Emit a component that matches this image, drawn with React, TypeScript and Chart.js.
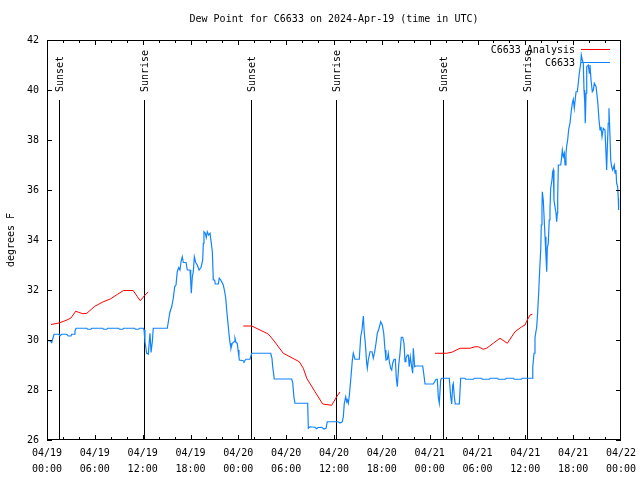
import React, { useEffect, useRef } from 'react';
import { Chart, registerables } from 'chart.js';

Chart.register(...registerables);

const TITLE = 'Dew Point for C6633 on 2024-Apr-19 (time in UTC)';
const Y_TITLE = 'degrees F';
const FONT = 'DejaVu Sans Mono';

// x tick labels every 6 hours from 04/19 00:00 (UTC)
const xTickLabels: string[][] = [
  ['04/19', '00:00'], ['04/19', '06:00'], ['04/19', '12:00'], ['04/19', '18:00'],
  ['04/20', '00:00'], ['04/20', '06:00'], ['04/20', '12:00'], ['04/20', '18:00'],
  ['04/21', '00:00'], ['04/21', '06:00'], ['04/21', '12:00'], ['04/21', '18:00'],
  ['04/22', '00:00'],
];
const yTickValues = [26, 28, 30, 32, 34, 36, 38, 40, 42];

// sunset / sunrise markers (hours since 04/19 00:00 UTC)
const sunEventHours = [1.55, 12.2, 25.63, 36.25, 49.71, 60.25];
const sunEventLabels = ['Sunset', 'Sunrise', 'Sunset', 'Sunrise', 'Sunset', 'Sunrise'];

// Legend
const seriesNames = ['C6633 Analysis', 'C6633'];
const seriesColors = ['#ff0000', '#1084ff'];

// C6633 Analysis (null = gap)
const analysisHours = [
  0.5, 1.5, 2.5, 3.0, 3.6, 4.5, 5.0, 6.0, 7.0, 8.0, 8.8, 9.6, 10.8, 11.3, 11.7, 12.3, 12.7,
  18,
  24.62, 25.68, 26.72, 27.76, 28.39, 29.64, 30.48, 31.65, 32.15, 32.58, 33.62, 34.58, 35.71, 36.34, 36.75,
  42,
  48.67, 50.14, 50.77, 51.81, 53.06, 53.69, 54.1, 54.73, 55.15, 55.98, 56.82, 57.74, 58.7, 59.54, 59.96, 60.25, 60.59, 60.88,
];
const analysisValues: (number | null)[] = [
  30.62, 30.68, 30.8, 30.88, 31.15, 31.05, 31.07, 31.35, 31.52, 31.65, 31.82, 31.98, 31.98, 31.75, 31.57, 31.8, 31.92,
  null,
  30.56, 30.56, 30.4, 30.24, 30.0, 29.47, 29.33, 29.13, 28.87, 28.47, 27.93, 27.44, 27.39, 27.73, 27.92,
  null,
  29.47, 29.47, 29.51, 29.67, 29.67, 29.73, 29.73, 29.63, 29.67, 29.87, 30.07, 29.87, 30.33, 30.53, 30.6, 30.8, 31.0, 31.03,
];

// C6633 observations: [hours since 04/19 00:00, dew point F]
const obsSeries: [number, number][] = [
  [0.0, 29.97], [0.38, 29.97], [0.59, 29.9], [0.88, 30.23], [1.5, 30.23], [1.63, 30.17], [1.84, 30.23], [2.47, 30.23],
  [2.67, 30.16], [3.01, 30.16], [3.1, 30.23], [3.39, 30.23], [3.51, 30.36], [3.64, 30.47], [5.0, 30.47], [5.1, 30.43],
  [5.5, 30.43], [5.6, 30.47], [7.0, 30.47], [7.1, 30.43], [7.5, 30.43], [7.6, 30.47], [9.0, 30.47], [9.1, 30.43],
  [9.5, 30.43], [9.6, 30.47], [11.0, 30.47], [11.1, 30.43], [11.5, 30.43], [11.6, 30.47], [12.1, 30.47], [12.17, 30.4],
  [12.29, 29.93], [12.5, 29.47], [12.71, 29.44], [12.83, 29.93], [12.92, 30.27], [13.05, 29.5], [13.21, 29.93], [13.33, 30.47],
  [15.09, 30.47], [15.22, 30.73], [15.43, 31.13], [15.64, 31.33], [15.84, 31.67], [16.02, 32.13], [16.18, 32.2], [16.34, 32.73],
  [16.52, 32.9], [16.68, 32.8], [16.81, 33.13], [16.97, 33.33], [17.1, 33.1], [17.44, 33.1], [17.6, 32.8], [17.94, 32.8],
  [18.03, 32.33], [18.1, 31.87], [18.23, 32.53], [18.35, 32.73], [18.48, 33.33], [18.65, 33.1], [18.85, 33.0], [19.07, 32.8],
  [19.32, 32.9], [19.53, 33.2], [19.61, 33.87], [19.69, 34.33], [19.86, 34.27], [19.98, 34.1], [20.11, 34.33], [20.28, 34.2],
  [20.45, 34.27], [20.61, 33.87], [20.74, 33.53], [20.86, 32.4], [21.03, 32.4], [21.11, 32.24], [21.49, 32.24], [21.61, 32.47],
  [21.79, 32.4], [21.91, 32.33], [22.11, 32.2], [22.29, 31.93], [22.42, 31.67], [22.54, 31.2], [22.7, 30.67], [22.83, 30.24],
  [22.96, 29.87], [23.08, 29.67], [23.24, 29.87], [23.46, 29.93], [23.58, 30.07], [23.71, 29.9], [23.87, 29.87], [23.96, 29.6],
  [24.08, 29.33], [24.12, 29.2], [24.62, 29.17], [24.71, 29.13], [24.96, 29.23], [25.46, 29.23], [25.68, 29.47], [28.06, 29.47],
  [28.22, 29.27], [28.31, 28.93], [28.51, 28.44], [30.69, 28.44], [30.82, 28.3], [30.98, 27.69], [31.11, 27.47], [32.7, 27.47],
  [32.78, 26.47], [32.99, 26.53], [33.62, 26.51], [33.83, 26.45], [33.99, 26.5], [34.46, 26.51], [34.75, 26.44], [35.0, 26.47],
  [35.16, 26.73], [36.54, 26.73], [36.75, 26.68], [37.04, 26.73], [37.17, 26.93], [37.29, 27.47], [37.47, 27.73], [37.6, 27.53],
  [37.68, 27.6], [37.8, 27.47], [37.93, 27.8], [38.13, 28.53], [38.3, 29.2], [38.42, 29.47], [38.63, 29.23], [39.17, 29.23],
  [39.35, 30.13], [39.51, 30.4], [39.68, 30.96], [39.8, 30.27], [39.93, 29.87], [40.1, 29.07], [40.18, 28.87], [40.3, 29.2],
  [40.52, 29.53], [40.77, 29.53], [40.93, 29.27], [41.1, 29.53], [41.27, 29.87], [41.43, 30.27], [41.65, 30.47], [41.86, 30.73],
  [42.06, 30.6], [42.24, 30.27], [42.4, 29.6], [42.52, 29.2], [42.69, 29.23], [42.81, 29.47], [42.94, 29.13], [43.11, 28.87],
  [43.24, 28.8], [43.36, 29.07], [43.53, 29.23], [43.69, 29.23], [43.82, 28.47], [43.94, 28.13], [44.12, 29.0], [44.28, 29.47],
  [44.44, 30.11], [44.62, 30.11], [44.78, 29.87], [44.91, 29.13], [45.03, 29.27], [45.19, 29.4], [45.32, 29.4], [45.44, 28.93],
  [45.57, 29.33], [45.74, 28.93], [45.87, 28.67], [45.95, 29.67], [46.12, 28.93], [46.25, 28.96], [47.13, 28.96], [47.42, 28.24],
  [48.46, 28.24], [48.8, 28.43], [48.96, 28.43], [49.08, 27.73], [49.21, 27.47], [49.38, 28.4], [49.51, 28.47], [50.46, 28.47],
  [50.64, 27.73], [50.76, 27.44], [50.89, 28.2], [50.96, 28.27], [51.09, 27.73], [51.21, 27.44], [51.72, 27.44], [51.89, 28.47],
  [52.43, 28.47], [52.5, 28.43], [53.5, 28.43], [53.6, 28.47], [54.5, 28.47], [54.6, 28.43], [55.5, 28.43], [55.6, 28.47],
  [56.5, 28.47], [56.6, 28.43], [57.5, 28.43], [57.6, 28.47], [58.5, 28.47], [58.6, 28.43], [59.5, 28.43], [59.6, 28.47],
  [60.84, 28.47], [60.93, 28.9], [61.09, 29.47], [61.21, 30.1], [61.43, 30.53], [61.55, 31.13], [61.68, 31.93], [61.8, 32.8],
  [61.93, 33.6], [62.0, 34.6], [62.09, 35.3], [62.13, 35.93], [62.25, 35.6], [62.34, 35.6], [62.47, 34.13], [62.59, 33.33],
  [62.68, 32.73], [62.76, 33.7], [62.88, 33.87], [63.0, 34.8], [63.09, 35.2], [63.18, 36.07], [63.34, 36.4], [63.43, 36.73],
  [63.51, 36.8], [63.59, 35.6], [63.72, 35.33], [63.85, 35.07], [63.93, 34.73], [64.01, 35.07], [64.06, 35.73], [64.14, 37.0],
  [64.44, 37.0], [64.56, 37.33], [64.64, 37.6], [64.76, 37.33], [64.89, 37.47], [64.98, 37.0], [65.1, 37.47], [65.19, 37.76],
  [65.31, 38.0], [65.44, 38.43], [65.6, 38.67], [65.73, 39.07], [65.89, 39.47], [66.02, 39.63], [66.14, 39.27], [66.23, 39.53],
  [66.36, 39.93], [66.52, 39.93], [66.64, 40.27], [66.77, 40.67], [66.95, 41.07], [67.02, 41.4], [67.15, 41.2], [67.27, 41.07],
  [67.36, 40.0], [67.45, 39.53], [67.52, 38.67], [67.61, 39.87], [67.7, 40.93], [67.9, 41.0], [68.03, 40.67], [68.11, 41.0],
  [68.24, 40.4], [68.4, 39.93], [68.53, 40.0], [68.65, 40.27], [68.87, 40.13], [69.08, 39.53], [69.24, 38.8], [69.37, 38.4],
  [69.49, 38.53], [69.62, 38.13], [69.78, 38.47], [69.99, 38.4], [70.12, 37.47], [70.2, 36.8], [70.28, 37.67], [70.4, 38.67],
  [70.49, 39.27], [70.62, 38.13], [70.71, 37.2], [70.83, 36.93], [70.96, 36.8], [71.16, 37.0], [71.25, 36.67], [71.37, 36.8],
  [71.45, 36.27], [71.58, 36.13], [71.66, 35.67], [71.7, 35.2],
];

const decorPlugin = {
  id: 'gnuplotDecor',
  beforeDatasetsDraw(chart: any) {
    const { ctx, chartArea, scales } = chart;
    const { top, bottom } = chartArea;
    const h = bottom - top;
    ctx.save();
    ctx.strokeStyle = '#000';
    ctx.lineWidth = 1;
    ctx.fillStyle = '#000';
    ctx.font = `10px "${FONT}"`;
    sunEventHours.forEach((hr, i) => {
      const x = Math.round(scales.x.getPixelForValue(hr)) + 0.5;
      ctx.beginPath();
      ctx.moveTo(x, bottom);
      ctx.lineTo(x, bottom - 0.85 * h);
      ctx.stroke();
      ctx.save();
      ctx.translate(x + 0.5, bottom - 0.87 * h);
      ctx.rotate(-Math.PI / 2);
      ctx.textAlign = 'left';
      ctx.textBaseline = 'middle';
      ctx.fillText(sunEventLabels[i], 0, 0);
      ctx.restore();
    });
    ctx.restore();
  },
  afterDatasetsDraw(chart: any) {
    const { ctx, chartArea, scales } = chart;
    const { left, right, top, bottom } = chartArea;
    ctx.save();
    ctx.strokeStyle = '#000';
    ctx.lineWidth = 1;
    // frame
    ctx.strokeRect(left + 0.5, top + 0.5, right - left - 1, bottom - top - 1);
    // x ticks every 2 hours, major every 6
    ctx.beginPath();
    for (let hr = 2; hr < 72; hr += 2) {
      const x = Math.round(scales.x.getPixelForValue(hr)) + 0.5;
      const len = hr % 6 === 0 ? 5 : 3;
      ctx.moveTo(x, bottom);
      ctx.lineTo(x, bottom - len);
      ctx.moveTo(x, top);
      ctx.lineTo(x, top + len);
    }
    yTickValues.forEach((v) => {
      const y = Math.round(scales.y.getPixelForValue(v)) + 0.5;
      ctx.moveTo(left, y);
      ctx.lineTo(left + 5, y);
      ctx.moveTo(right, y);
      ctx.lineTo(right - 5, y);
    });
    ctx.stroke();

    ctx.fillStyle = '#000';
    ctx.font = `10px "${FONT}"`;
    // title
    ctx.textAlign = 'center';
    ctx.textBaseline = 'middle';
    ctx.fillText(TITLE, (left + right) / 2, 19);
    // y title
    ctx.save();
    ctx.translate(11, (top + bottom) / 2);
    ctx.rotate(-Math.PI / 2);
    ctx.fillText(Y_TITLE, 0, 0);
    ctx.restore();
    // legend
    seriesNames.forEach((name, i) => {
      const y = 50 + i * 13;
      ctx.fillStyle = '#000';
      ctx.textAlign = 'right';
      ctx.fillText(name, 575, y);
      ctx.strokeStyle = seriesColors[i];
      ctx.beginPath();
      ctx.moveTo(581, y - 0.5);
      ctx.lineTo(610, y - 0.5);
      ctx.stroke();
    });
    ctx.restore();
  },
};

export default function App() {
  const canvasRef = useRef<HTMLCanvasElement | null>(null);

  useEffect(() => {
    if (!canvasRef.current) return;
    const tickFont = { family: FONT, size: 10, lineHeight: 1.6 };
    const chart = new Chart(canvasRef.current, {
      type: 'line',
      data: {
        datasets: [
          {
            label: seriesNames[0],
            data: analysisHours.map((hr, i) => ({ x: hr, y: analysisValues[i] })) as any,
            borderColor: seriesColors[0],
            borderWidth: 1,
            pointRadius: 0,
            tension: 0,
            spanGaps: false,
          },
          {
            label: seriesNames[1],
            data: obsSeries.map(([hr, v]) => ({ x: hr, y: v })),
            borderColor: seriesColors[1],
            borderWidth: 1.2,
            pointRadius: 0,
            tension: 0,
          },
        ],
      },
      options: {
        responsive: false,
        animation: false,
        events: [],
        layout: { padding: { left: 0, right: 19, top: 40, bottom: 0 } },
        plugins: {
          legend: { display: false },
          title: { display: false },
          tooltip: { enabled: false },
        },
        scales: {
          x: {
            type: 'linear',
            min: 0,
            max: 72,
            grid: { display: false, drawTicks: false },
            border: { display: false },
            ticks: {
              stepSize: 6,
              autoSkip: false,
              maxRotation: 0,
              minRotation: 0,
              padding: 5,
              color: '#000',
              font: tickFont,
              callback: (v: any) => xTickLabels[Math.round(Number(v) / 6)],
            },
            afterFit: (s: any) => {
              s.height = 40;
              s.paddingLeft = 0;
              s.paddingRight = 0;
            },
          },
          y: {
            type: 'linear',
            min: 26,
            max: 42,
            grid: { display: false, drawTicks: false },
            border: { display: false },
            ticks: {
              stepSize: 2,
              padding: 8,
              color: '#000',
              font: { family: FONT, size: 10 },
            },
            afterFit: (s: any) => {
              s.width = 47;
              s.paddingTop = 0;
              s.paddingBottom = 0;
            },
          },
        },
      },
      plugins: [decorPlugin],
    });
    return () => chart.destroy();
  }, []);

  return (
    <div style={{ position: 'fixed', left: 0, top: 0, width: 640, height: 480, background: '#fff' }}>
      <canvas ref={canvasRef} width={640} height={480} style={{ width: 640, height: 480, display: 'block' }} />
    </div>
  );
}
